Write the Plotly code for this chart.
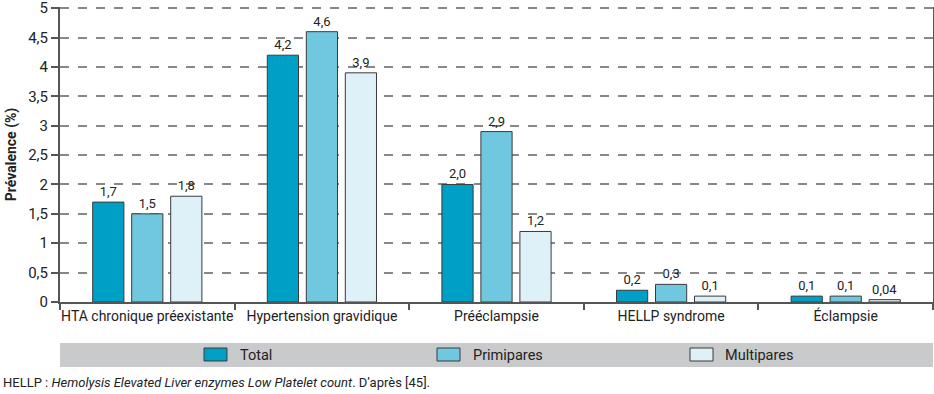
import plotly.graph_objects as go

categories = ["HTA chronique préexistante", "Hypertension gravidique", "Prééclampsie",
              "HELLP syndrome", "Éclampsie"]
total = [1.7, 4.2, 2.0, 0.2, 0.1]
primipares = [1.5, 4.6, 2.9, 0.3, 0.1]
multipares = [1.8, 3.9, 1.2, 0.1, 0.04]
series_names = ["Total", "Primipares", "Multipares"]
series_colors = ["#00a0c6", "#6fc8e0", "#dff1f8"]
y_ticks = [0, 0.5, 1, 1.5, 2, 2.5, 3, 3.5, 4, 4.5, 5]

FONT = "Roboto, Liberation Sans, sans-serif"


def fmt(v):
    s = f"{v:.2f}" if v < 0.1 else f"{v:.1f}"
    return s.replace(".", ",")


def tick_fmt(v):
    s = f"{v:g}"
    return s.replace(".", ",")


fig = go.Figure()
for name, vals, col in zip(series_names, [total, primipares, multipares], series_colors):
    fig.add_trace(go.Bar(
        x=categories, y=vals, name=name,
        marker=dict(color=col, line=dict(color="#3a3a3a", width=1)),
        text=[fmt(v) for v in vals], textposition="outside",
        textfont=dict(size=13, color="#222"),
        cliponaxis=False, showlegend=False,
    ))

W, H = 934, 394
L, R, T, B = 60, 1, 7, 92
pw, ph = W - L - R, H - T - B


def px(x):
    return (x - L) / pw


def py(y):
    return (H - B - y) / ph


shapes = [dict(type="rect", xref="paper", yref="paper", x0=0, x1=1,
               y0=py(367), y1=py(343), fillcolor="#c9cacc", line=dict(width=0), layer="below")]
annotations = []
legend_pos = [(204, 238), (437, 471), (690, 723)]
for (sx, tx), name, col in zip(legend_pos, series_names, series_colors):
    shapes.append(dict(type="rect", xref="paper", yref="paper", x0=px(sx), x1=px(sx + 23),
                       y0=py(361), y1=py(348), fillcolor=col,
                       line=dict(color="#3a3a3a", width=1)))
    annotations.append(dict(xref="paper", yref="paper", x=px(tx), y=py(355), text=name,
                            showarrow=False, xanchor="left", yanchor="middle",
                            font=dict(size=14.5, color="#222", family=FONT)))

annotations.append(dict(xref="paper", yref="paper", x=px(1), y=py(383),
                        text="HELLP : <i>Hemolysis Elevated Liver enzymes Low Platelet count</i>. D\u2019après [45].",
                        showarrow=False, xanchor="left", yanchor="middle",
                        font=dict(size=13, color="#222", family=FONT)))

fig.update_layout(
    width=W, height=H,
    margin=dict(l=L, r=R, t=T, b=B, pad=0),
    paper_bgcolor="white", plot_bgcolor="white",
    font=dict(family=FONT, size=14, color="#222"),
    barmode="group", bargap=0.33, bargroupgap=0.2,
    shapes=shapes, annotations=annotations,
    xaxis=dict(showline=True, linecolor="#555", linewidth=2, ticks="outside",
               tickson="boundaries", ticklen=6, tickcolor="#555", tickwidth=1.5,
               showgrid=False, tickfont=dict(size=14, color="#222"),
               tickangle=0, automargin=False),
    yaxis=dict(range=[0, 5.02], tickvals=y_ticks, ticktext=[tick_fmt(v) for v in y_ticks],
               showline=True, linecolor="#555", linewidth=2, mirror=True,
               ticks="outside", ticklen=7, tickcolor="#555", tickwidth=1.5,
               showgrid=True, gridcolor="#888", griddash="dash", gridwidth=1.5,
               ticklabeloverflow="allow",
               zeroline=False, tickfont=dict(size=15, color="#222"), automargin=False,
               title=dict(text="<b>Prévalence (%)</b>", font=dict(size=14), standoff=8)),
)

fig.write_html("out.html", config={"displayModeBar": False},
               post_script="document.body.style.margin='0';document.body.style.overflow='hidden';")
